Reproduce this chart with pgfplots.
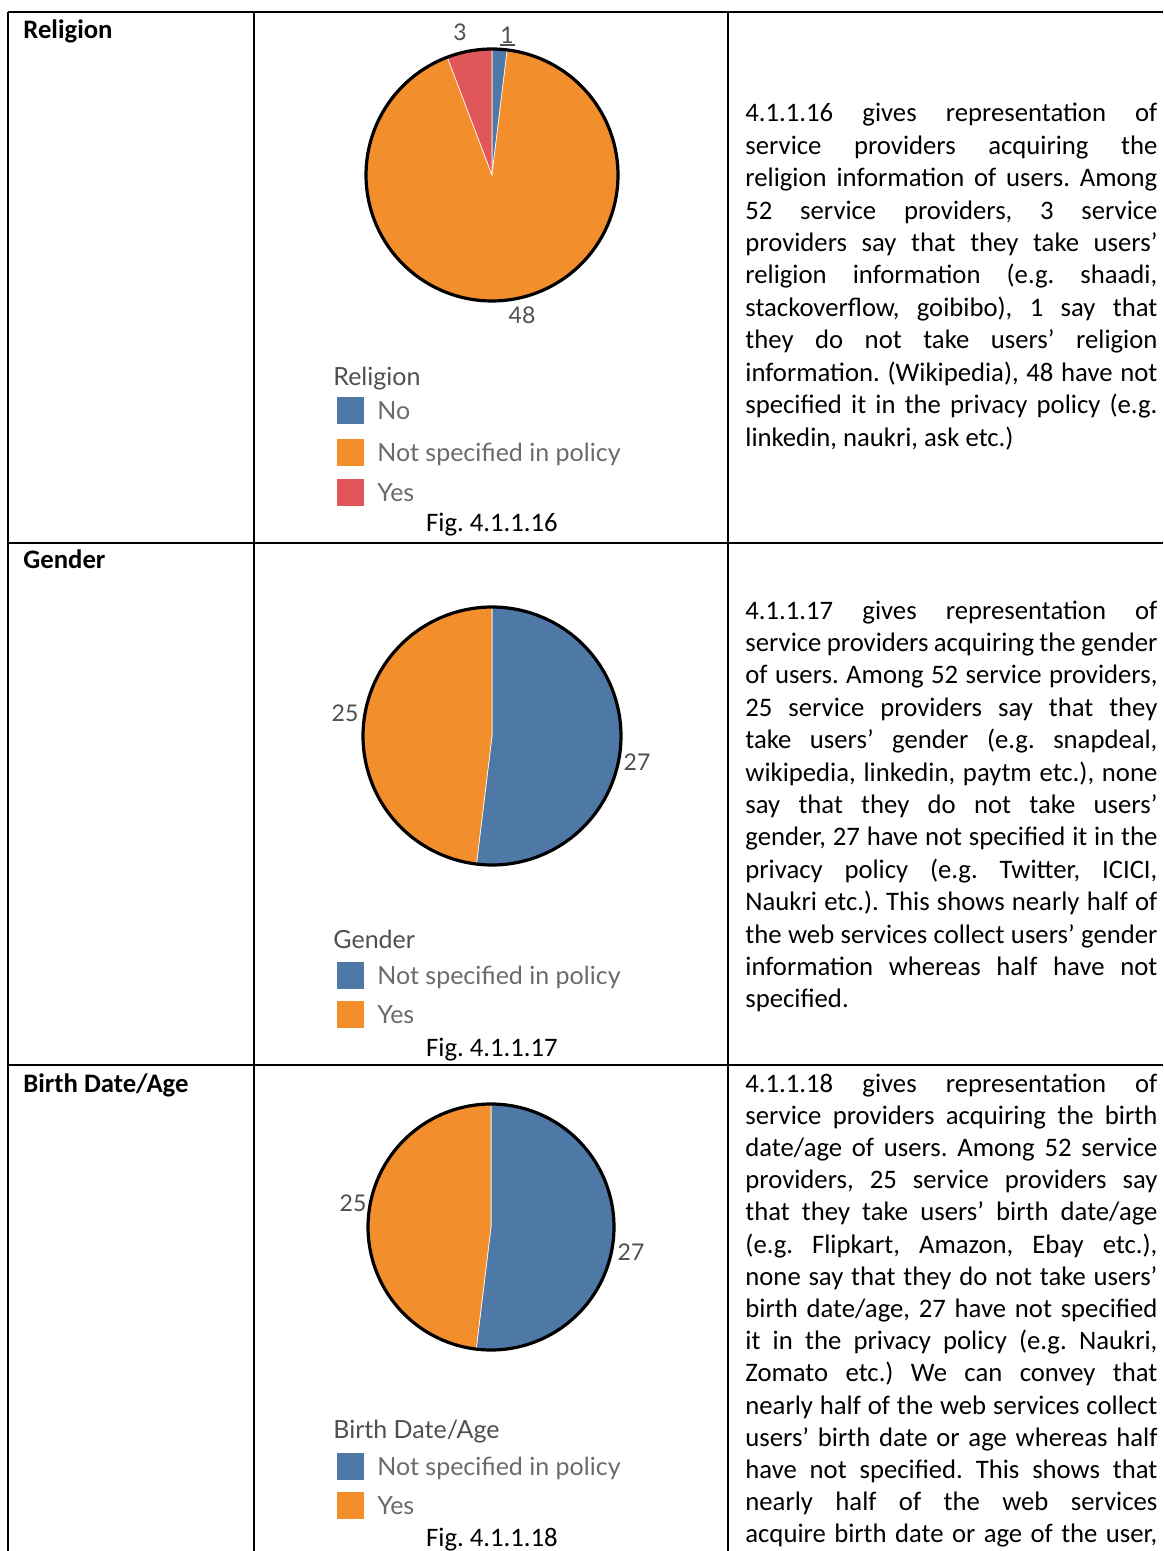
\documentclass[border=0pt]{standalone}
\usepackage{pgfplots}
\pgfplotsset{compat=1.18}
\usepackage{fontspec}
\setmainfont{Carlito}
\newfontfamily\tabfont{Lato}
\frenchspacing

\definecolor{tabblue}{HTML}{4E79A7}
\definecolor{taborange}{HTML}{F28E2B}
\definecolor{tabred}{HTML}{E15759}
\definecolor{legtitle}{HTML}{4F4F4F}
\definecolor{legtext}{HTML}{6A6A6A}

% counts
% Religion: No, Not specified in policy, Yes
\def\relNo{1}\def\relNS{48}\def\relYes{3}
% Gender: Not specified in policy, Yes
\def\genNS{27}\def\genYes{25}
% Birth Date/Age: Not specified in policy, Yes
\def\birNS{27}\def\birYes{25}

% slice borders, degrees clockwise from 12 o'clock
\pgfmathsetmacro\relA{\relNo/(\relNo+\relNS+\relYes)*360}
\pgfmathsetmacro\relB{\relA+\relNS/(\relNo+\relNS+\relYes)*360}
\pgfmathsetmacro\genA{\genNS/(\genNS+\genYes)*360}
\pgfmathsetmacro\birA{\birNS/(\birNS+\birYes)*360}

% #1,#2 centre  #3 radius  #4,#5 angles  #6 colour
\newcommand{\pieslice}[6]{%
  \addplot[fill=#6, draw=white, line width=0.3pt, domain=#4:#5, samples=90, variable=\t]
    ({#1+#3*sin(\t)}, {#2-#3*cos(\t)}) -- (axis cs:#1,#2) -- cycle;}
\newcommand{\pieedge}[3]{%
  \addplot[black, line width=1.6pt, domain=0:360, samples=180, variable=\t]
    ({#1+#3*sin(\t)}, {#2-#3*cos(\t)});}

\newcommand{\bodyfont}{\fontsize{13.35}{16}\selectfont}
\newcommand{\legfont}{\tabfont\fontsize{12.5}{14}\selectfont}
\newcommand{\piefont}{\tabfont\fontsize{11.5}{13}\selectfont}
% justified line / last line of a paragraph
\newcommand{\jl}[2]{\node[anchor=base west, inner sep=0pt, font=\bodyfont] at (axis cs:745,#1) {\makebox[206pt][s]{#2}};}
\newcommand{\lastl}[2]{\node[anchor=base west, inner sep=0pt, font=\bodyfont] at (axis cs:745,#1) {#2};}

\begin{document}
\begin{tikzpicture}
\begin{axis}[
    x=0.5pt, y=0.5pt, y dir=reverse,
    xmin=0, xmax=1163, ymin=0, ymax=1551,
    hide axis, clip=false
]
\coordinate (SW) at (axis cs:0,1551);
\coordinate (NE) at (axis cs:1163,0);

% table rules
\draw[black, line width=1pt] (axis cs:8,12) -- (axis cs:1163,12);
\draw[black, line width=1pt] (axis cs:8,543) -- (axis cs:1163,543);
\draw[black, line width=1pt] (axis cs:8,1065) -- (axis cs:1163,1065);
\draw[black, line width=1.3pt] (axis cs:8,12) -- (axis cs:8,1551);
\draw[black, line width=1.3pt] (axis cs:254,12) -- (axis cs:254,1551);
\draw[black, line width=1.3pt] (axis cs:728,12) -- (axis cs:728,1551);

% first column
\node[anchor=base west, inner sep=0pt, font=\bodyfont\bfseries] at (axis cs:23,39) {Religion};
\node[anchor=base west, inner sep=0pt, font=\bodyfont\bfseries] at (axis cs:23,568) {Gender};
\node[anchor=base west, inner sep=0pt, font=\bodyfont\bfseries] at (axis cs:23,1092) {Birth Date/Age};

% ---------- Religion pie ----------
\pieslice{492}{175}{126}{0}{\relA}{tabblue}
\pieslice{492}{175}{126}{\relA}{\relB}{taborange}
\pieslice{492}{175}{126}{\relB}{360}{tabred}
\pieedge{492}{175}{126}
\node[font=\piefont, text=legtitle] at (axis cs:460,32) {3};
\node[font=\piefont, text=legtitle] at (axis cs:507,35) {1};
\draw[legtitle, line width=0.6pt] (axis cs:500,45) -- (axis cs:515,45);
\node[font=\piefont, text=legtitle] at (axis cs:522,315) {48};

\node[anchor=base west, inner sep=0pt, font=\legfont, text=legtitle] at (axis cs:333,386) {Religion};
\addplot[fill=tabblue, draw=none] coordinates {(337,397) (364,397) (364,424) (337,424)} -- cycle;
\addplot[fill=taborange, draw=none] coordinates {(337,439) (364,439) (364,466) (337,466)} -- cycle;
\addplot[fill=tabred, draw=none] coordinates {(337,479) (364,479) (364,506) (337,506)} -- cycle;
\node[anchor=base west, inner sep=0pt, font=\legfont, text=legtext] at (axis cs:377,419) {No};
\node[anchor=base west, inner sep=0pt, font=\legfont, text=legtext] at (axis cs:377,461) {Not specified in policy};
\node[anchor=base west, inner sep=0pt, font=\legfont, text=legtext] at (axis cs:377,501) {Yes};
\node[anchor=base, inner sep=0pt, font=\bodyfont] at (axis cs:492,531) {Fig. 4.1.1.16};

% ---------- Gender pie ----------
\pieslice{492}{736}{129}{0}{\genA}{tabblue}
\pieslice{492}{736}{129}{\genA}{360}{taborange}
\pieedge{492}{736}{129}
\node[font=\piefont, text=legtitle] at (axis cs:345,713) {25};
\node[font=\piefont, text=legtitle] at (axis cs:637,762) {27};

\node[anchor=base west, inner sep=0pt, font=\legfont, text=legtitle] at (axis cs:333,948) {Gender};
\addplot[fill=tabblue, draw=none] coordinates {(337,962) (364,962) (364,989) (337,989)} -- cycle;
\addplot[fill=taborange, draw=none] coordinates {(337,1001) (364,1001) (364,1028) (337,1028)} -- cycle;
\node[anchor=base west, inner sep=0pt, font=\legfont, text=legtext] at (axis cs:377,984) {Not specified in policy};
\node[anchor=base west, inner sep=0pt, font=\legfont, text=legtext] at (axis cs:377,1023) {Yes};
\node[anchor=base, inner sep=0pt, font=\bodyfont] at (axis cs:492,1056) {Fig. 4.1.1.17};

% ---------- Birth Date/Age pie ----------
\pieslice{491}{1227}{123}{0}{\birA}{tabblue}
\pieslice{491}{1227}{123}{\birA}{360}{taborange}
\pieedge{491}{1227}{123}
\node[font=\piefont, text=legtitle] at (axis cs:353,1203) {25};
\node[font=\piefont, text=legtitle] at (axis cs:631,1252) {27};

\node[anchor=base west, inner sep=0pt, font=\legfont, text=legtitle] at (axis cs:333,1438) {Birth Date/Age};
\addplot[fill=tabblue, draw=none] coordinates {(337,1453) (364,1453) (364,1480) (337,1480)} -- cycle;
\addplot[fill=taborange, draw=none] coordinates {(337,1492) (364,1492) (364,1519) (337,1519)} -- cycle;
\node[anchor=base west, inner sep=0pt, font=\legfont, text=legtext] at (axis cs:377,1475) {Not specified in policy};
\node[anchor=base west, inner sep=0pt, font=\legfont, text=legtext] at (axis cs:377,1514) {Yes};
\node[anchor=base, inner sep=0pt, font=\bodyfont] at (axis cs:492,1546) {Fig. 4.1.1.18};

% ---------- text column ----------
\jl{122}{4.1.1.16 gives representation of}
\jl{154.4}{service providers acquiring the}
\jl{186.8}{religion information of users. Among}
\jl{219.2}{52 service providers, 3 service}
\jl{251.6}{providers say that they take users’}
\jl{284}{religion information (e.g. shaadi,}
\jl{316.4}{stackoverflow, goibibo), 1 say that}
\jl{348.8}{they do not take users’ religion}
\jl{381.2}{information. (Wikipedia), 48 have not}
\jl{413.6}{specified it in the privacy policy (e.g.}
\lastl{446}{linkedin, naukri, ask etc.)}

\jl{619}{4.1.1.17 gives representation of}
\jl{651.4}{service providers acquiring the gender}
\jl{683.8}{of users. Among 52 service providers,}
\jl{716.2}{25 service providers say that they}
\jl{748.6}{take users’ gender (e.g. snapdeal,}
\jl{781}{wikipedia, linkedin, paytm etc.), none}
\jl{813.4}{say that they do not take users’}
\jl{845.8}{gender, 27 have not specified it in the}
\jl{878.2}{privacy policy (e.g. Twitter, ICICI,}
\jl{910.6}{Naukri etc.). This shows nearly half of}
\jl{943}{the web services collect users’ gender}
\jl{975.4}{information whereas half have not}
\lastl{1007.8}{specified.}

\jl{1092}{4.1.1.18 gives representation of}
\jl{1124.2}{service providers acquiring the birth}
\jl{1156.4}{date/age of users. Among 52 service}
\jl{1188.6}{providers, 25 service providers say}
\jl{1220.8}{that they take users’ birth date/age}
\jl{1253}{(e.g. Flipkart, Amazon, Ebay etc.),}
\jl{1285.2}{none say that they do not take users’}
\jl{1317.4}{birth date/age, 27 have not specified}
\jl{1349.6}{it in the privacy policy (e.g. Naukri,}
\jl{1381.8}{Zomato etc.) We can convey that}
\jl{1414}{nearly half of the web services collect}
\jl{1446.2}{users’ birth date or age whereas half}
\jl{1478.4}{have not specified. This shows that}
\jl{1510.6}{nearly half of the web services}
\jl{1542.8}{acquire birth date or age of the user,}
\end{axis}
\pgfresetboundingbox
\useasboundingbox (SW) rectangle (NE);
\end{tikzpicture}
\end{document}
